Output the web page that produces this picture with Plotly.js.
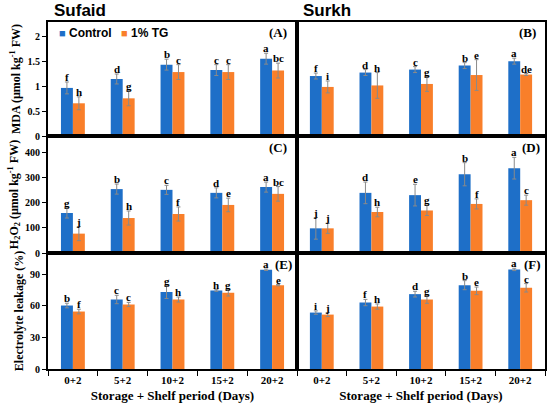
<!DOCTYPE html>
<html>
<head>
<meta charset="utf-8">
<script src="https://cdn.plot.ly/plotly-3.0.1.min.js"></script>
<style>html,body{margin:0;padding:0;background:#fff;}#chart{width:550px;height:406px;}</style>
</head>
<body>
<div id="chart"></div>
<script>
const categories = ['0+2', '5+2', '10+2', '15+2', '20+2'];
const seriesNames = ['Control', '1% TG'];

// (A) Sufaid MDA
const mdaSufaidControl = [0.97, 1.15, 1.44, 1.33, 1.56];
const mdaSufaidControlErr = [0.12, 0.10, 0.11, 0.11, 0.11];
const mdaSufaidTG = [0.66, 0.76, 1.29, 1.29, 1.32];
const mdaSufaidTGErr = [0.13, 0.15, 0.15, 0.15, 0.15];
const mdaSufaidLetters = [['f','d','b','c','a'], ['h','g','c','c','bc']];

// (B) Surkh MDA
const mdaSurkhControl = [1.21, 1.28, 1.34, 1.42, 1.51];
const mdaSurkhControlErr = [0.06, 0.06, 0.06, 0.06, 0.06];
const mdaSurkhTG = [0.99, 1.02, 1.05, 1.23, 1.24];
const mdaSurkhTGErr = [0.12, 0.26, 0.15, 0.31, 0.02];
const mdaSurkhLetters = [['f','d','c','b','a'], ['i','h','g','e','de']];

// (C) Sufaid H2O2
const h2o2SufaidControl = [159, 254, 251, 239, 262];
const h2o2SufaidControlErr = [20, 20, 18, 20, 20];
const h2o2SufaidTG = [77, 139, 155, 191, 235];
const h2o2SufaidTGErr = [28, 28, 28, 27, 29];
const h2o2SufaidLetters = [['g','b','c','d','a'], ['j','h','f','e','bc']];

// (D) Surkh H2O2
const h2o2SurkhControl = [98, 239, 230, 313, 337];
const h2o2SurkhControlErr = [43, 43, 43, 46, 43];
const h2o2SurkhTG = [98, 163, 169, 195, 210];
const h2o2SurkhTGErr = [20, 19, 20, 20, 20];
const h2o2SurkhLetters = [['j','d','e','b','a'], ['j','h','g','f','c']];

// (E) Sufaid Electrolyte leakage
const elSufaidControl = [60.2, 65.9, 72.9, 74.5, 94.1];
const elSufaidControlErr = [2.2, 4, 6, 0.8, 0.7];
const elSufaidTG = [54.5, 61.2, 65.9, 72.2, 79.5];
const elSufaidTGErr = [2.2, 2, 2.4, 3, 0.6];
const elSufaidLetters = [['b','c','g','h','a'], ['f','c','h','g','e']];

// (F) Surkh Electrolyte leakage
const elSurkhControl = [53.5, 63, 71, 79.5, 94.4];
const elSurkhControlErr = [1.6, 3, 2.7, 4.3, 1.1];
const elSurkhTG = [51.6, 59.2, 65.9, 74.1, 77];
const elSurkhTGErr = [1.9, 2.5, 3.6, 3.6, 4];
const elSurkhLetters = [['i','f','d','b','a'], ['j','h','g','e','c']];

const panelLabels = ['(A)', '(B)', '(C)', '(D)', '(E)', '(F)'];
const cultivars = ['Sufaid', 'Surkh'];
const yTitles = ['MDA (µmol kg<sup>-1</sup> FW)', 'H<sub>2</sub>O<sub>2</sub> (µmol kg<sup>-1</sup> FW)', 'Electrolyte leakage (%)'];
const xTitle = 'Storage + Shelf period (Days)';

const panels = [
  {c: mdaSufaidControl, ce: mdaSufaidControlErr, t: mdaSufaidTG, te: mdaSufaidTGErr, l: mdaSufaidLetters},
  {c: mdaSurkhControl, ce: mdaSurkhControlErr, t: mdaSurkhTG, te: mdaSurkhTGErr, l: mdaSurkhLetters},
  {c: h2o2SufaidControl, ce: h2o2SufaidControlErr, t: h2o2SufaidTG, te: h2o2SufaidTGErr, l: h2o2SufaidLetters},
  {c: h2o2SurkhControl, ce: h2o2SurkhControlErr, t: h2o2SurkhTG, te: h2o2SurkhTGErr, l: h2o2SurkhLetters},
  {c: elSufaidControl, ce: elSufaidControlErr, t: elSufaidTG, te: elSufaidTGErr, l: elSufaidLetters},
  {c: elSurkhControl, ce: elSurkhControlErr, t: elSurkhTG, te: elSurkhTGErr, l: elSurkhLetters}
];

const blue = '#1E6FC8';
const orange = '#F97F2A';
const serif = 'Liberation Serif, Times New Roman, serif';
const sans = 'Liberation Sans, Arial, sans-serif';
const bargap = 0.52;
const yRanges = [[0, 2.3], [0, 465], [0, 110]];
const yDticks = [0.5, 100, 30];
const labelPos = [[0.962, 0.905], [0.968, 0.905], [0.962, 0.9], [0.982, 0.905], [0.985, 0.9], [0.988, 0.905]];

const W = 550, H = 406, mL = 48, mR = 5, mT = 22, mB = 37;
const pw = W - mL - mR, ph = H - mT - mB;
const split = 249 / pw;
const r1 = 1 - 114 / ph, r2 = 1 - 231 / ph;
const yDomains = [[r1, 1], [r2, r1], [0, r2]];
const xDomains = [[0, split], [split, 1]];

const traces = [];
const annotations = [];
const layout = {
  width: W, height: H,
  margin: {l: mL, r: mR, t: mT, b: mB},
  paper_bgcolor: '#fff', plot_bgcolor: '#fff',
  barmode: 'group', bargap: bargap, bargroupgap: 0,
  showlegend: false,
  annotations: annotations
};

panels.forEach((p, k) => {
  const row = Math.floor(k / 2), col = k % 2;
  const idx = k + 1;
  const xa = 'x' + (idx === 1 ? '' : idx), ya = 'y' + (idx === 1 ? '' : idx);
  const xk = 'xaxis' + (idx === 1 ? '' : idx), yk = 'yaxis' + (idx === 1 ? '' : idx);
  const vals = [p.c, p.t], errs = [p.ce, p.te], cols = [blue, orange];
  for (let s = 0; s < 2; s++) {
    traces.push({
      type: 'bar', x: categories, y: vals[s], name: seriesNames[s],
      xaxis: xa, yaxis: ya,
      marker: {color: cols[s], line: {width: 0}},
      error_y: {type: 'data', array: errs[s], visible: true, color: '#8a8a8a', thickness: 1, width: 2},
      legendgroup: seriesNames[s], hoverinfo: 'none'
    });
    const off = (s === 0 ? -1 : 1) * (1 - bargap) / 4;
    categories.forEach((cat, i) => {
      annotations.push({
        xref: xa, yref: ya, x: i + off, y: vals[s][i] + errs[s][i],
        text: p.l[s][i], showarrow: false, xanchor: 'center', yanchor: 'bottom', yshift: -2, borderpad: 0,
        font: {family: serif, size: 11, color: '#000', weight: 'bold'}
      });
    });
  }
  annotations.push({
    xref: xa + ' domain', yref: ya + ' domain', x: labelPos[k][0], y: labelPos[k][1],
    text: panelLabels[k], showarrow: false, xanchor: 'right', yanchor: 'middle', borderpad: 0,
    font: {family: serif, size: 13, color: '#000', weight: 'bold'}
  });
  const xax = {
    domain: xDomains[col], anchor: ya, type: 'category',
    showline: true, mirror: true, linecolor: '#000', linewidth: 2,
    showgrid: false, zeroline: false,
    ticks: row === 2 ? 'outside' : '', tickson: 'boundaries', ticklen: 5, tickcolor: '#000', tickwidth: 1,
    showticklabels: row === 2,
    tickfont: {family: serif, size: 11, color: '#000', weight: 'bold'}
  };
  if (row === 2) xax.title = {text: xTitle, font: {family: serif, size: 13, color: '#000', weight: 'bold'}, standoff: 6};
  layout[xk] = xax;
  const yax = {
    domain: yDomains[row], anchor: xa, range: yRanges[row], dtick: yDticks[row], tick0: 0,
    showline: true, mirror: true, linecolor: '#000', linewidth: 2,
    showgrid: false, zeroline: false,
    ticks: col === 0 ? 'outside' : '', ticklen: 4, tickcolor: '#000', tickwidth: 1,
    showticklabels: col === 0,
    tickfont: {family: serif, size: 10, color: '#000', weight: 'bold'}
  };
  if (col === 0) yax.title = {text: yTitles[row], font: {family: serif, size: 12, color: '#000', weight: 'bold'}, standoff: 4};
  layout[yk] = yax;
});

// legend drawn as text inside panel (A)
const legendX = [57, 119];
const legendColors = [blue, orange];
seriesNames.forEach((nm, s) => {
  annotations.push({
    xref: 'paper', yref: 'paper', x: (legendX[s] - mL) / pw, y: (H - mB - 33) / ph,
    text: '<span style="color:' + legendColors[s] + ';font-size:11px">■</span> ' + nm,
    showarrow: false, xanchor: 'left', yanchor: 'middle',
    font: {family: sans, size: 12, color: '#000', weight: 'bold'}
  });
});

cultivars.forEach((name, c) => {
  annotations.push({
    xref: 'paper', yref: 'paper', x: c === 0 ? 4 / pw : split + 4 / pw, y: 1,
    text: name, showarrow: false, xanchor: 'left', yanchor: 'bottom', yshift: 0,
    font: {family: sans, size: 17, color: '#000', weight: 'bold'}
  });
});

Plotly.newPlot('chart', traces, layout, {displayModeBar: false, staticPlot: true});
</script>
</body>
</html>
